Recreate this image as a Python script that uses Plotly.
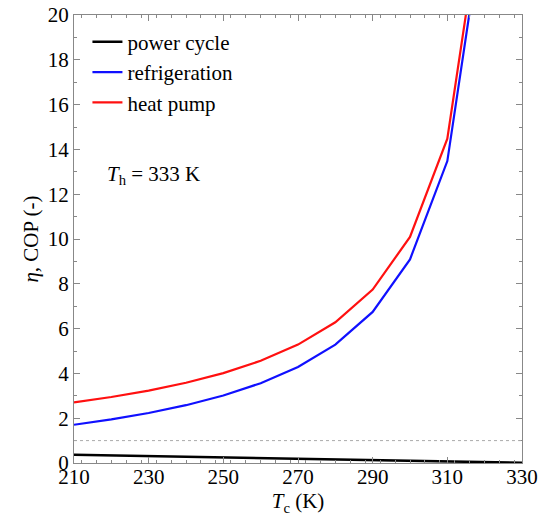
import plotly.graph_objects as go

Tc = [210, 220, 230, 240, 250, 260, 270, 280, 290, 300, 310, 320, 330]
power_cycle = [0.369, 0.339, 0.309, 0.279, 0.249, 0.219, 0.189, 0.159, 0.129, 0.099, 0.069, 0.039, 0.009]
refrigeration = [1.707, 1.947, 2.233, 2.581, 3.012, 3.562, 4.286, 5.283, 6.744, 9.091, 13.478, 24.615, 110.0]
heat_pump = [2.707, 2.947, 3.233, 3.581, 4.012, 4.562, 5.286, 6.283, 7.744, 10.091, 14.478, 25.615, 111.0]
ref_line_y = 1

FONT = "Liberation Serif"

fig = go.Figure()
fig.add_trace(go.Scatter(x=Tc, y=power_cycle, mode="lines", name="power cycle",
                         line=dict(color="black", width=2.5)))
fig.add_trace(go.Scatter(x=Tc, y=refrigeration, mode="lines", name="refrigeration",
                         line=dict(color="#1010ff", width=2.2)))
fig.add_trace(go.Scatter(x=Tc, y=heat_pump, mode="lines", name="heat pump",
                         line=dict(color="#ff1010", width=2.2)))

fig.add_shape(type="line", xref="paper", x0=0, x1=1, yref="y", y0=ref_line_y, y1=ref_line_y,
              line=dict(color="#aaaaaa", width=1, dash="dot"))

fig.add_annotation(x=0.069, xref="paper", y=12.85, yref="y", xanchor="left", yanchor="middle",
                   text="<i>T</i><sub>h</sub> = 333 K", showarrow=False,
                   font=dict(family=FONT, size=21, color="black"))

axis_common = dict(showgrid=False, zeroline=False, showline=True, linecolor="#888888",
                   linewidth=1, mirror="ticks", ticks="inside", tickcolor="#888888",
                   ticklen=6, automargin=False,
                   tickfont=dict(family=FONT, size=21, color="black"))

fig.update_xaxes(range=[210, 330], tickvals=[210, 230, 250, 270, 290, 310, 330],
                 minor=dict(dtick=4, ticks="inside", ticklen=3, tickcolor="#888888"),
                 ticklabelstandoff=-5,
                 title=dict(text="<i>T</i><sub>c</sub> (K)", font=dict(family=FONT, size=21, color="black"),
                            standoff=5),
                 **axis_common)
fig.update_yaxes(range=[0, 20], dtick=2,
                 minor=dict(dtick=1, ticks="inside", ticklen=3, tickcolor="#888888"),
                 title=dict(text="<i>η</i>, COP (-)", font=dict(family=FONT, size=21, color="black"),
                            standoff=3),
                 **axis_common)

fig.update_layout(
    width=550, height=518,
    margin=dict(l=74, r=28, t=15, b=55, autoexpand=False),
    plot_bgcolor="white", paper_bgcolor="white",
    legend=dict(x=0.03, y=0.985, xanchor="left", yanchor="top",
                font=dict(family=FONT, size=21, color="black"),
                bgcolor="rgba(0,0,0,0)", itemwidth=30, tracegroupgap=0),
    showlegend=True,
)

fig.write_html("out.html", config={"displayModeBar": False},
               post_script="document.body.style.margin='0';document.body.style.overflow='hidden';")
